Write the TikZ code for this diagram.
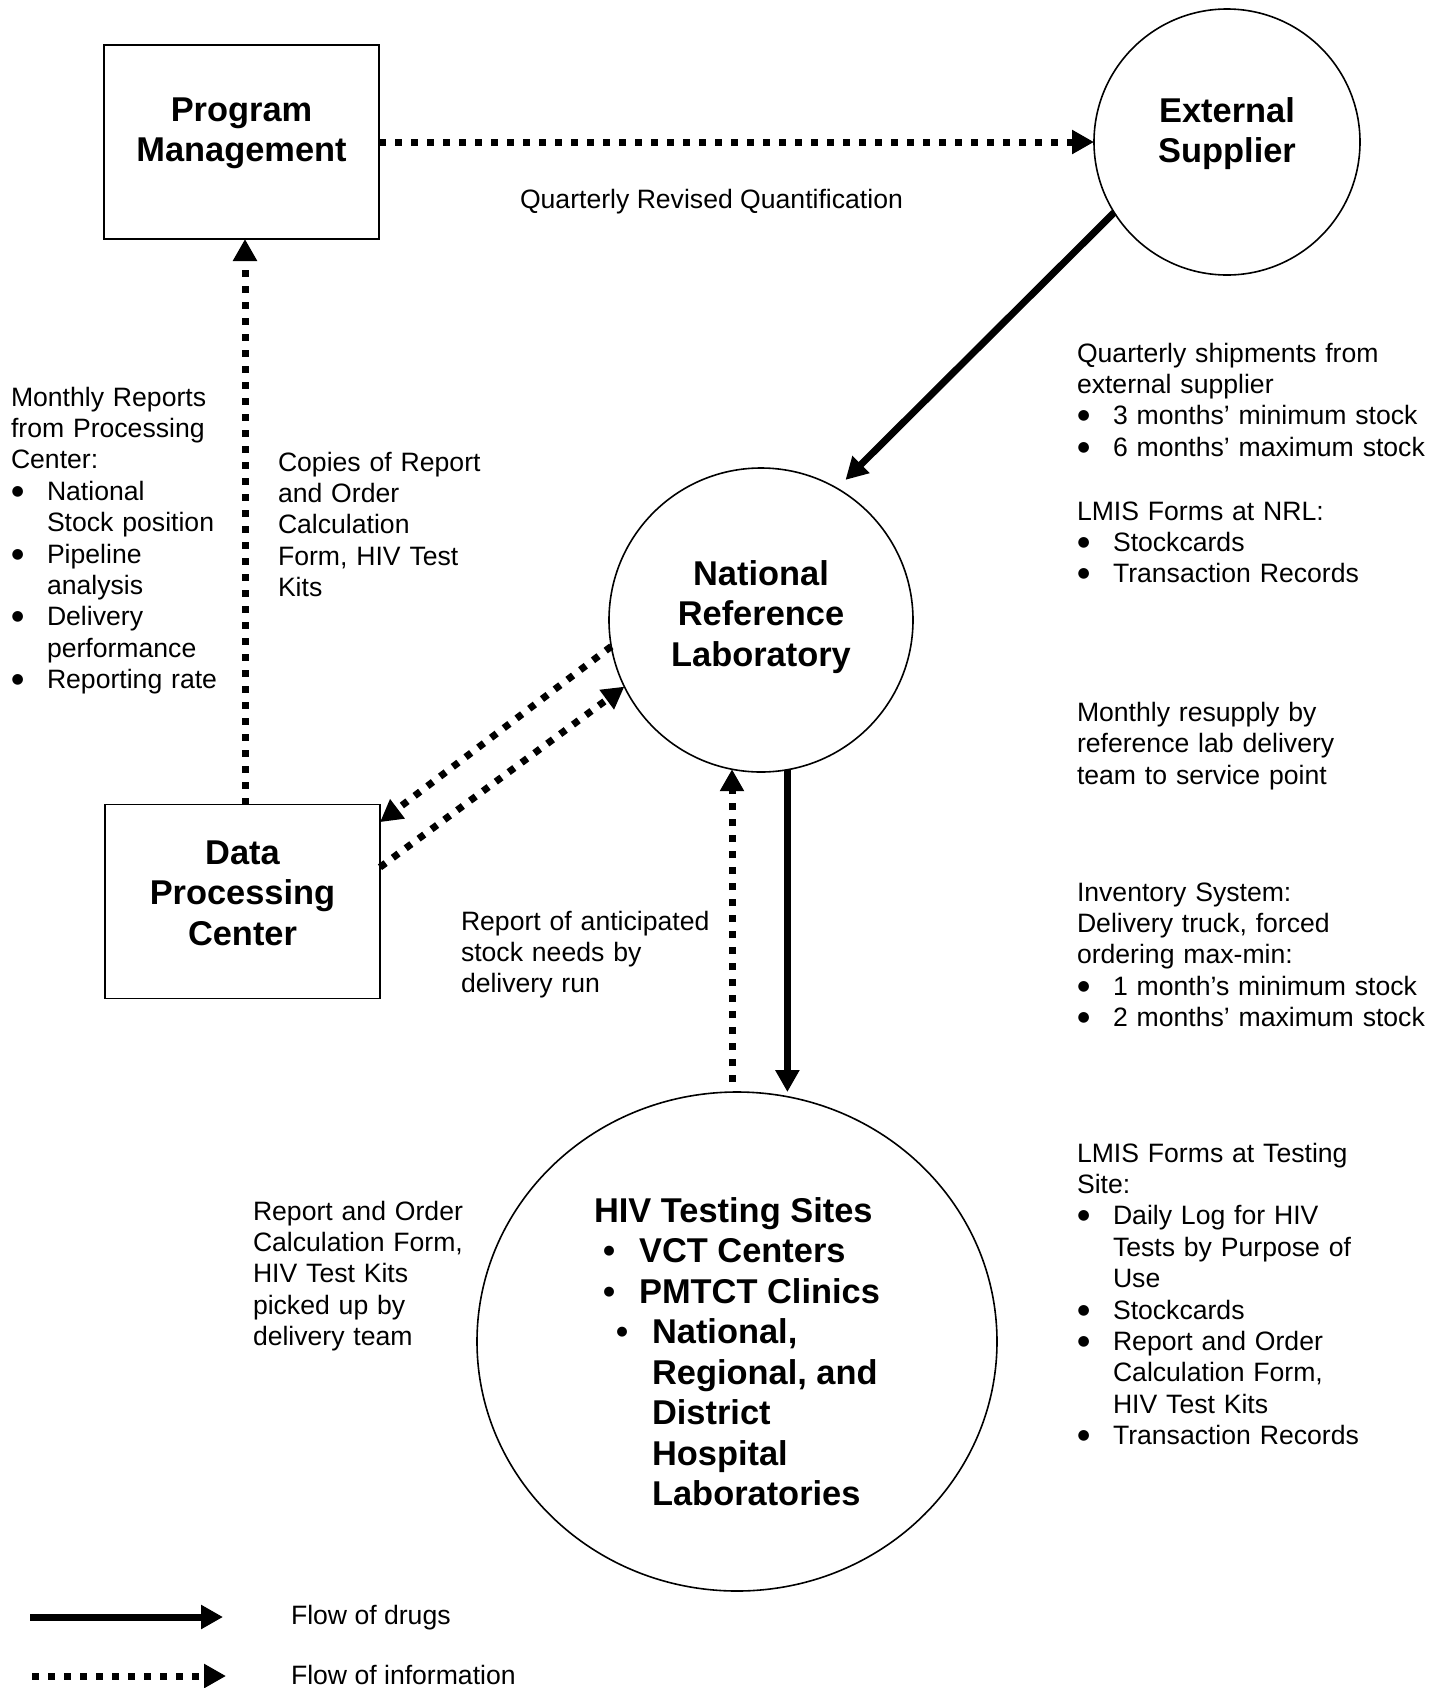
\documentclass[tikz,border=0pt]{standalone}
\usepackage{fontspec}
\setmainfont{Liberation Sans}
\newfontfamily\dotfont{DejaVu Sans}
\usetikzlibrary{arrows.meta,calc,shapes.geometric}

% body text and heading sizes
\newcommand\txtfont{\fontsize{13.3pt}{15.7pt}\selectfont}
\newcommand\ttlfont{\fontsize{17.2pt}{20.25pt}\selectfont\bfseries}
% bullet with hanging indent for body text
\newcommand\nb{\makebox[18pt][l]{\hspace*{0.3pt}\raisebox{2.5pt}{\fontsize{7pt}{8pt}\selectfont\dotfont ●}}}
\newcommand\nind{\hspace*{18pt}}
% bullet for heading lists: #1 indent, #2 gap to the text
\newcommand\bb[2]{\hspace*{#1}\makebox[#2][l]{\textbullet}}

\begin{document}
\begin{tikzpicture}[x=0.5pt,y=-0.5pt,
  every node/.style={inner sep=0pt,outer sep=0pt},
  box/.style={draw,line width=0.85pt,minimum width=137.5pt,minimum height=97pt},
  circ/.style={draw,circle,line width=0.8pt},
  ttl/.style={align=center,font=\ttlfont},
  txt/.style={anchor=base west,align=left,text width=200pt,font=\txtfont},
  tip/.style={-{Triangle[length=11pt,width=11.5pt]}},
  drug/.style={tip,line width=3.5pt},
  info/.style={tip,line width=3.5pt,dash pattern=on 3.5pt off 4.5pt}]

\useasboundingbox (0,0) rectangle (1439,1688);
\fill[white] (0,0) rectangle (1439,1688);

% actors
\node[box] (PM) at (241.5,142) {};
\node[circ,minimum size=133pt] (ES) at (1227,142) {};
\node[circ,minimum size=152pt] (NRL) at (761,620) {};
\node[box] (DPC) at (242.5,901.5) {};
\node[draw,ellipse,line width=0.8pt,minimum width=260pt,minimum height=249.5pt]
  (HIV) at (737,1341.5) {};

% actor titles
\node[ttl] (PMt) at ([yshift=4.3pt]PM.center) {Program\\Management};
\node[ttl] (ESt) at ([yshift=4.3pt]ES.center) {External\\Supplier};
\node[ttl] (NRLt) at ([yshift=1.6pt]NRL.center) {National\\Reference\\Laboratory};
\node[ttl] (DPCt) at ([yshift=4.3pt]DPC.center) {Data\\Processing\\Center};
\node[ttl,align=left] (HIVt) at ([yshift=-5pt]HIV.center)
  {HIV Testing Sites\\
   \bb{4.5pt}{18pt}VCT Centers\\
   \bb{4.5pt}{18pt}PMTCT Clinics\\
   \bb{11pt}{18pt}National,\\
   \hspace*{29pt}Regional, and\\
   \hspace*{29pt}District\\
   \hspace*{29pt}Hospital\\
   \hspace*{29pt}Laboratories};

% flows
\draw[info] (PM.east) -- (ES.west);
\draw[info] ($(DPC.north)+(2.5,0)$) -- ($(PM.south)+(3.5,0)$);
\draw[drug,shorten >=6pt] (ES.212) -- (NRL.60);
\draw[info] (NRL.190) -- (DPC.30.7);
\draw[info] (DPC.14) -- (NRL.206.7);
\draw[info,shorten <=5pt] (NRL.259 |- HIV.north) -- (NRL.259);
\draw[drug] (NRL.280) -- (NRL.280 |- HIV.north);

% annotations
\node[anchor=base west,font=\txtfont] (q) at (520,208) {Quarterly Revised Quantification};
\node[txt] (mr) at (11,406) {Monthly Reports\\from Processing\\Center:\\
  \nb National\\\nind Stock position\\\nb Pipeline\\\nind analysis\\
  \nb Delivery\\\nind performance\\\nb Reporting rate};
\node[txt] (cp) at (278,471) {Copies of Report\\and Order\\Calculation\\Form, HIV Test\\Kits};
\node[txt] (qs) at (1077,362) {Quarterly shipments from\\external supplier\\
  \nb 3 months’ minimum stock\\\nb 6 months’ maximum stock};
\node[txt] (ln) at (1077,520) {LMIS Forms at NRL:\\\nb Stockcards\\\nb Transaction Records};
\node[txt] (rs) at (1077,721.5) {Monthly resupply by\\reference lab delivery\\team to service point};
\node[txt] (inv) at (1077,901) {Inventory System:\\Delivery truck, forced\\ordering max-min:\\
  \nb 1 month’s minimum stock\\\nb 2 months’ maximum stock};
\node[txt] (lt) at (1077,1162) {LMIS Forms at Testing\\Site:\\
  \nb Daily Log for HIV\\\nind Tests by Purpose of\\\nind Use\\
  \nb Stockcards\\
  \nb Report and Order\\\nind Calculation Form,\\\nind HIV Test Kits\\
  \nb Transaction Records};
\node[txt] (an) at (461,930) {Report of anticipated\\stock needs by\\delivery run};
\node[txt] (pu) at (253,1220) {Report and Order\\Calculation Form,\\HIV Test Kits\\picked up by\\delivery team};

% legend
\coordinate (d1) at (30,1617);
\coordinate (d2) at (223,1617);
\coordinate (i1) at (32,1676);
\coordinate (i2) at (226,1676);
\draw[drug] (d1) -- (d2);
\draw[info] (i1) -- (i2);
\node[anchor=base west,font=\txtfont] (lg1) at (291,1624.5) {Flow of drugs};
\node[anchor=base west,font=\txtfont] (lg2) at (291,1684) {Flow of information};
\end{tikzpicture}
\end{document}
